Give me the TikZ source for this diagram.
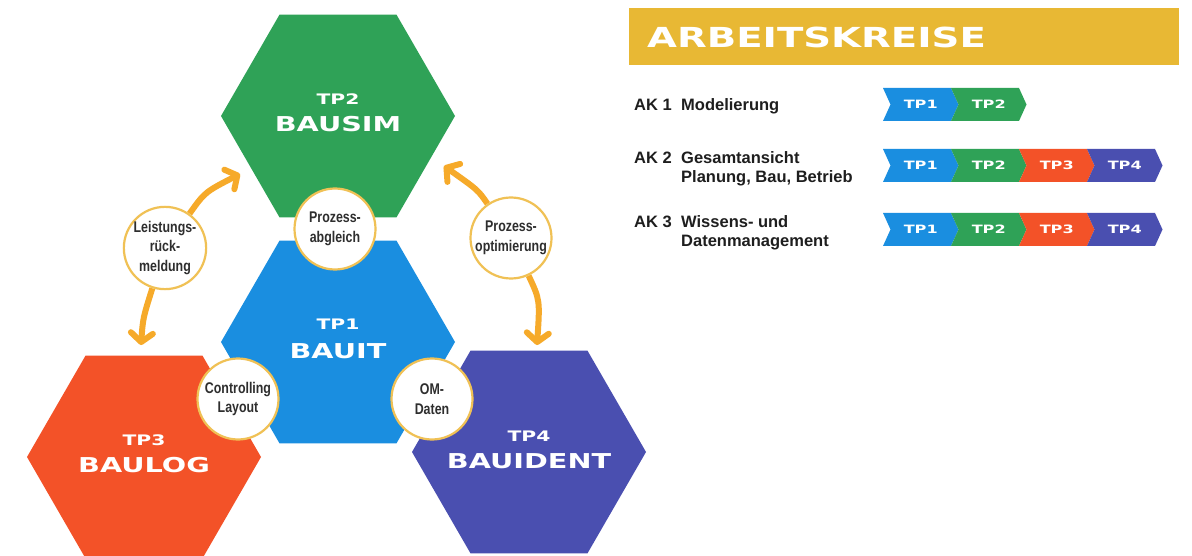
\documentclass[tikz,border=0pt]{standalone}
\usepackage{fontspec}
\setmainfont{Liberation Sans}
\newfontfamily\widefont[FakeStretch=1.4]{DejaVu Sans}
\newfontfamily\condfont[FakeStretch=0.8]{Liberation Sans}
\usetikzlibrary{shapes.geometric,arrows.meta}

\definecolor{tpblue}{HTML}{1A8EE0}
\definecolor{tpgreen}{HTML}{2FA257}
\definecolor{tpred}{HTML}{F35228}
\definecolor{tpviolet}{HTML}{4A4FB0}
\definecolor{bannergold}{HTML}{E8B834}
\definecolor{flow}{HTML}{F6AA2A}
\definecolor{ring}{HTML}{F0C155}
\definecolor{ink}{HTML}{1E1E1E}
\definecolor{circink}{HTML}{2E2E2E}

\pgfdeclarelayer{paper}
\pgfdeclarelayer{back}
\pgfsetlayers{paper,back,main}

% one chevron segment of a work-group bar:
% #1 left x, #2 top y, #3 fill colour, #4 label, #5 node name
\newcommand\barseg[5]{%
  \fill[#3] (#1,#2) -- ({#1+68},#2) -- ({#1+75.5},{#2+16.5}) -- ({#1+68},{#2+33})
    -- (#1,{#2+33}) -- ({#1+7.5},{#2+16.5}) -- cycle;
  \node[segtext] (#5) at ({#1+37.75},{#2+16.5}) {#4};%
}

\begin{document}
\begin{tikzpicture}[x=1pt,y=-1pt,
  hexa/.style={regular polygon, regular polygon sides=6, minimum size=234pt,
    inner sep=0pt, outer sep=0pt, fill=#1},
  tpsmall/.style={text=white, font=\widefont\bfseries\fontsize{14.5}{14.5}\selectfont,
    anchor=base, inner sep=0pt},
  tpbig/.style={text=white, font=\widefont\bfseries\fontsize{20.5}{20.5}\selectfont,
    anchor=base, inner sep=0pt},
  bubble/.style={circle, minimum size=81pt, inner sep=0pt, fill=white, draw=ring,
    line width=2.2pt, text=circink, align=center,
    font=\condfont\bfseries\fontsize{15.5}{19.5}\selectfont},
  flowarrow/.style={draw=flow, line width=6pt,
    -{Straight Barb[length=9pt,width=22pt,round]}},
  segtext/.style={text=white, font=\widefont\bfseries\fontsize{11.5}{11.5}\selectfont,
    inner sep=0pt},
  aklabel/.style={text=ink, font=\bfseries\fontsize{16.5}{16.5}\selectfont,
    anchor=base west, inner sep=0pt},
]
\useasboundingbox (0,0) rectangle (1192,556);
\begin{pgfonlayer}{paper}
  \fill[white] (0,0) rectangle (1192,556);
\end{pgfonlayer}

% the four sub-projects
\node[hexa=tpgreen]  (h2) at (338,116) {};
\node[hexa=tpblue]   (h1) at (338,342) {};
\node[hexa=tpred]    (h3) at (144,457) {};
\node[hexa=tpviolet] (h4) at (529,452) {};

\node[tpsmall] (h2a) at (338,104.5) {TP2};
\node[tpbig]   (h2b) at (338,132)   {BAUSIM};
\node[tpsmall] (h1a) at (338,329.5) {TP1};
\node[tpbig]   (h1b) at (338,358.5) {BAUIT};
\node[tpsmall] (h3a) at (144,445.5) {TP3};
\node[tpbig]   (h3b) at (144,472.5) {BAULOG};
\node[tpsmall] (h4a) at (529,441.5) {TP4};
\node[tpbig]   (h4b) at (529,468.5) {BAUIDENT};

% exchange bubbles
\node[bubble] (cA) at (335,229) {Prozess-\\abgleich};
\node[bubble] (cL) at (165,248) {Leistungs-\\rück-\\meldung};
\node[bubble] (cO) at (511,238) {Prozess-\\optimierung};
\node[bubble] (cC) at (238,399) {Controlling\\Layout};
\node[bubble] (cD) at (432,399) {OM-\\Daten};

% feedback arrows
\coordinate (t1) at (240,174);
\coordinate (t2) at (141,345);
\coordinate (t3) at (444,166);
\coordinate (t4) at (537,345);
\begin{pgfonlayer}{back}
  \draw[flowarrow] (cL) .. controls (205,192) .. (t1);
  \draw[flowarrow] (cL) .. controls (143,318) .. (t2);
  \draw[flowarrow] (cO) .. controls (478,190) .. (t3);
  \draw[flowarrow] (cO) .. controls (540,300) .. (t4);
\end{pgfonlayer}

% work groups
\node[fill=bannergold, minimum width=550pt, minimum height=57pt, inner sep=0pt,
  anchor=north west] (banner) at (629,8) {};
\node[text=white, font=\widefont\bfseries\fontsize{27.6}{27.6}\selectfont,
  anchor=base west, inner sep=0pt] (title) at (647,48) {ARBEITSKREISE};

\node[aklabel] (ak1)  at (634,111) {AK 1};
\node[aklabel] (ak1t) at (681,111) {Modelierung};
\node[aklabel] (ak2)  at (634,164) {AK 2};
\node[aklabel] (ak2t) at (681,164) {Gesamtansicht};
\node[aklabel] (ak2u) at (681,183) {Planung, Bau, Betrieb};
\node[aklabel] (ak3)  at (634,228) {AK 3};
\node[aklabel] (ak3t) at (681,228) {Wissens- und};
\node[aklabel] (ak3u) at (681,247) {Datenmanagement};

\barseg{883}{88}{tpblue}{TP1}{r1a}
\barseg{951}{88}{tpgreen}{TP2}{r1b}

\barseg{883}{149}{tpblue}{TP1}{r2a}
\barseg{951}{149}{tpgreen}{TP2}{r2b}
\barseg{1019}{149}{tpred}{TP3}{r2c}
\barseg{1087}{149}{tpviolet}{TP4}{r2d}

\barseg{883}{213}{tpblue}{TP1}{r3a}
\barseg{951}{213}{tpgreen}{TP2}{r3b}
\barseg{1019}{213}{tpred}{TP3}{r3c}
\barseg{1087}{213}{tpviolet}{TP4}{r3d}
\end{tikzpicture}
\end{document}
